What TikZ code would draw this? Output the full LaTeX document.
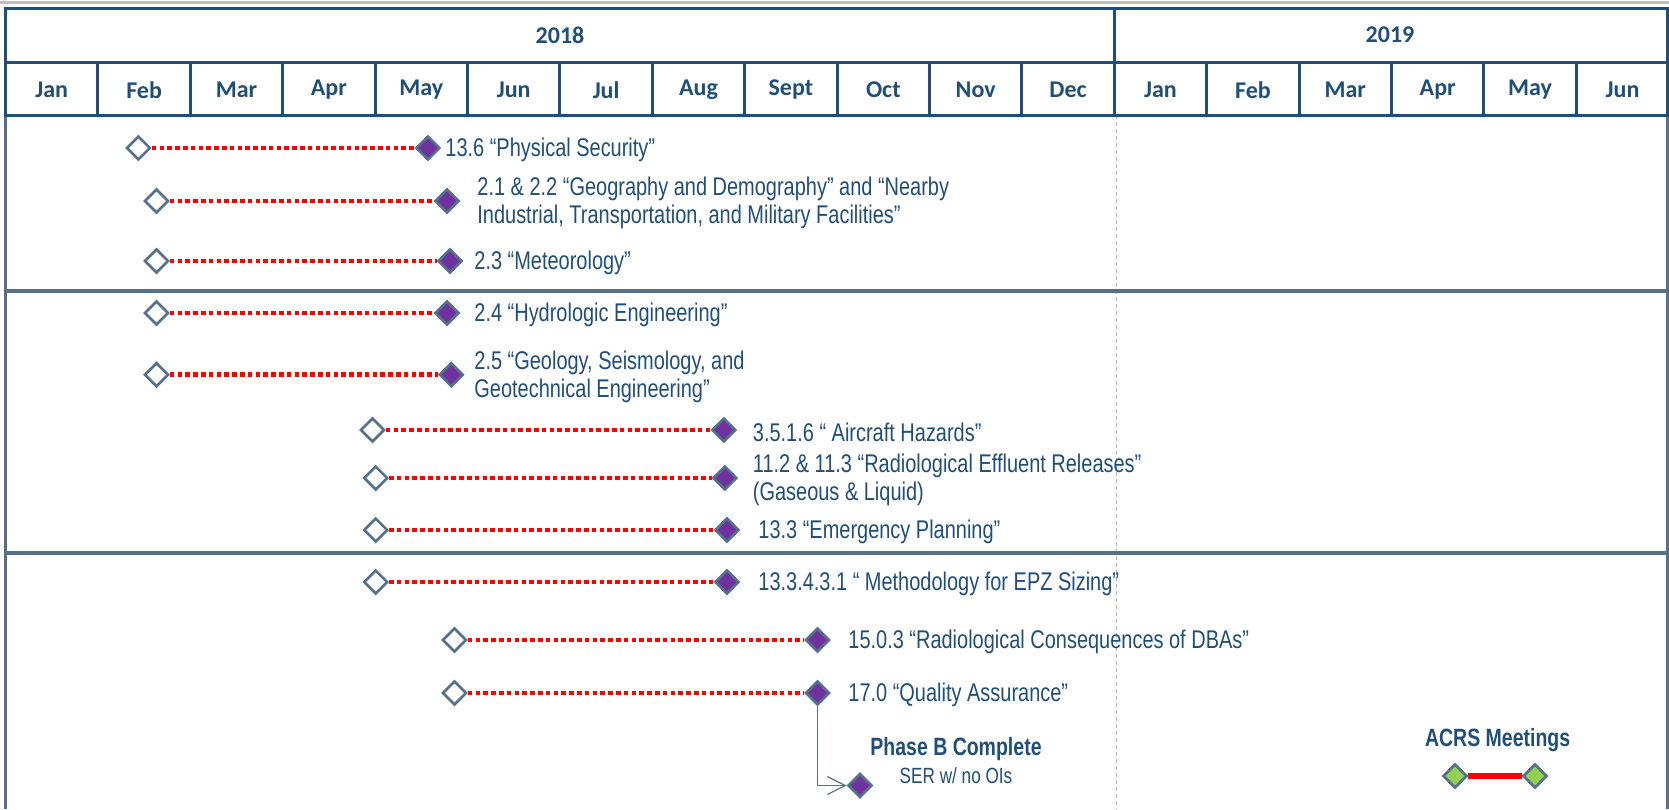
\documentclass[tikz,border=0pt]{standalone}
\usepackage{fontspec}
\setmainfont{Liberation Sans}[FakeStretch=0.78]
\newfontfamily\headfont{Carlito}
\usetikzlibrary{shapes.geometric,arrows.meta}
\definecolor{navy}{RGB}{31,78,121}
\definecolor{slate}{RGB}{84,112,138}
\definecolor{plum}{RGB}{112,48,160}
\definecolor{leaf}{RGB}{146,208,80}
\tikzset{
  ms/.style={diamond,draw=slate,line width=1.3pt,minimum width=12pt,minimum height=12pt,inner sep=0pt},
  msopen/.style={ms,fill=white},
  msdone/.style={ms,fill=plum},
  msacrs/.style={ms,fill=leaf},
  taskline/.style={red,line width=2.4pt,dash pattern=on 2.3pt off 1.6pt},
  tasklabel/.style={anchor=west,inner sep=0pt,text=navy,align=left,font=\fontsize{12.8}{14}\selectfont},
  headtext/.style={text=navy,font=\headfont\bfseries\fontsize{12}{13}\selectfont},
  gridline/.style={navy,line width=1.5pt},
  sepline/.style={slate,line width=2pt}
}
\begin{document}
\begin{tikzpicture}[x=0.5pt,y=-0.5pt]
\useasboundingbox (0,0) rectangle (1669,809);
% frame
\draw[gray!50,line width=1.5pt] (0,2) -- (1669,2);
\draw[slate,line width=1.5pt] (5,8) -- (5,809);
\draw[slate,line width=1.5pt] (1667,8) -- (1667,809);
\draw[gray!60,dashed,line width=0.5pt,dash pattern=on 2pt off 1.5pt] (1116,115) -- (1116,809);
% header
\draw[gridline] (5.5,8.5) rectangle (1667,115);
\draw[gridline] (5.5,62) -- (1667,62);
\draw[gridline] (1114.3,8.5) -- (1114.3,62);
\foreach \i in {1,...,17}
  \draw[gridline] ({5.5+\i*92.4},62) -- ({5.5+\i*92.4},115);
\node[headtext] (y18) at (560,35) {2018};
\node[headtext] (y19) at (1390,35) {2019};
\foreach \m [count=\i] in {Jan,Feb,Mar,Apr,May,Jun,Jul,Aug,Sept,Oct,Nov,Dec,Jan,Feb,Mar,Apr,May,Jun}
  \node[headtext] (m\i) at ({5.5+(\i-0.5)*92.4},90) {\m};
% groups
\draw[sepline] (5,291) -- (1667,291);
\draw[sepline] (5,552.5) -- (1667,552.5);
% tasks
\foreach \sx/\ex/\yy/\lx/\txt [count=\i] in {
  138.4/427.9/148/445/{13.6 “Physical Security”},
  156.5/447/201/477/{2.1 \& 2.2 “Geography and Demography” and “Nearby\\Industrial, Transportation, and Military Facilities”},
  156.5/450/261/474/{2.3 “Meteorology”},
  156.5/447/313/474/{2.4 “Hydrologic Engineering”},
  156.5/451.3/374.7/474/{2.5 “Geology, Seismology, and\\Geotechnical Engineering”},
  372.5/723.8/430/752.5/{3.5.1.6 “ Aircraft Hazards”},
  375.7/724.9/478/752.5/{11.2 \& 11.3 “Radiological Effluent Releases”\\(Gaseous \& Liquid)},
  375.7/727/530/758/{13.3 “Emergency Planning”},
  375.7/727/582/758/{13.3.4.3.1 “ Methodology for EPZ Sizing”},
  454.5/817.5/640/848/{15.0.3 “Radiological Consequences of DBAs”},
  454.5/817.5/693/848/{17.0 “Quality Assurance”}}{
  \node[msopen] (s\i) at (\sx,\yy) {};
  \node[msdone] (e\i) at (\ex,\yy) {};
  \draw[taskline] (s\i) -- (e\i);
  \node[tasklabel] (t\i) at (\lx,\yy+2) {\txt};
}
% phase B
\node[msdone] (pb) at (860,785.5) {};
\draw[slate,line width=0.6pt,-{Straight Barb[length=9pt,width=9pt]}] (e11) |- (pb);
\node[text=navy,font=\bfseries\fontsize{12.5}{14}\selectfont] (pbt) at (956,749) {Phase B Complete};
\node[text=navy,font=\fontsize{11}{12}\selectfont] (pbs) at (956,776) {SER w/ no OIs};
% ACRS
\node[text=navy,font=\bfseries\fontsize{12.5}{14}\selectfont] (acrs) at (1497.6,740) {ACRS Meetings};
\node[msacrs] (a1) at (1455,776) {};
\node[msacrs] (a2) at (1535,776) {};
\draw[red,line width=3pt] (a1) -- (a2);
\end{tikzpicture}
\end{document}
